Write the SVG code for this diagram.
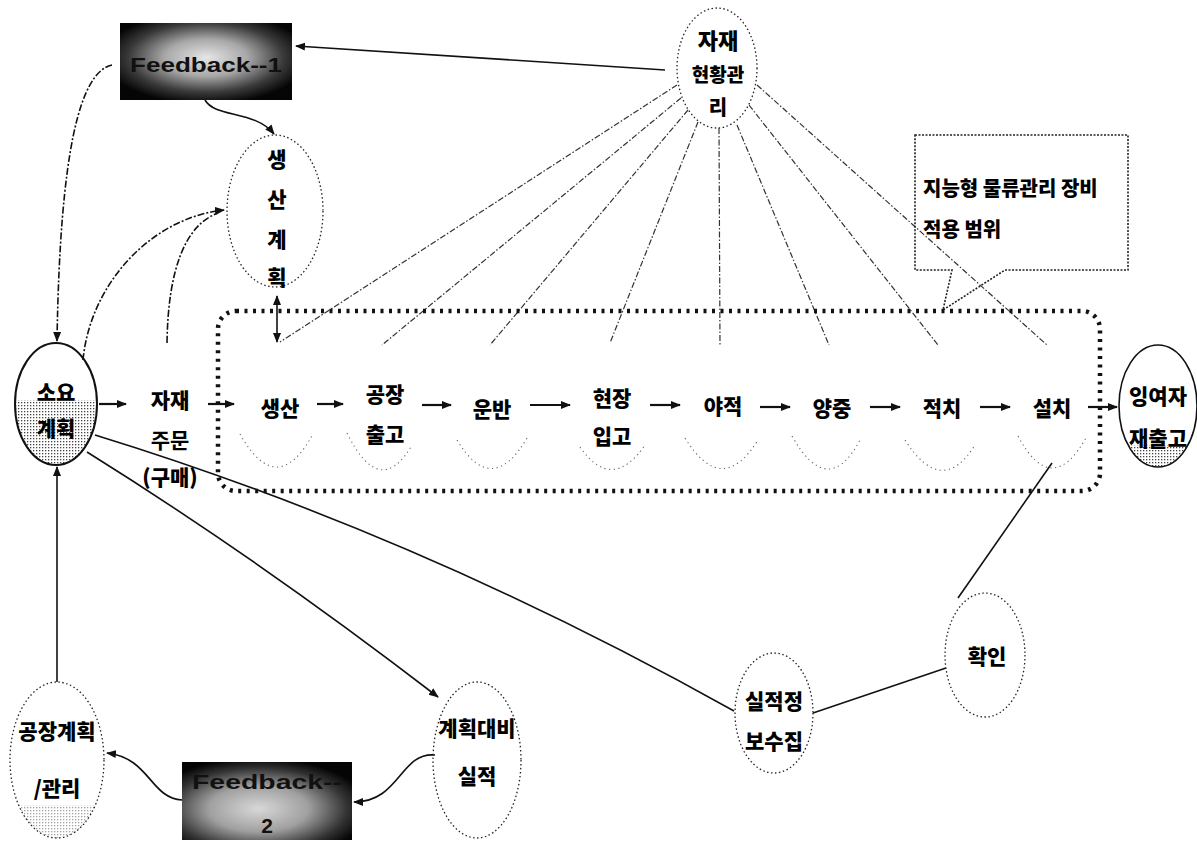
<svg xmlns="http://www.w3.org/2000/svg" width="1197" height="845" viewBox="0 0 1197 845">
<style>
.t{font-family:"Noto Sans CJK KR","Noto Sans",sans-serif;font-weight:900;font-size:21px;text-anchor:middle;dominant-baseline:central;fill:#000}
.fb{font-family:"Liberation Sans",Arial,sans-serif;font-weight:bold;font-size:21px;text-anchor:middle;dominant-baseline:central;fill:#111}
.dot{fill:none;stroke:#222;stroke-width:1.3;stroke-dasharray:1.5 2.5}
.solid{fill:none;stroke:#111;stroke-width:2}
.conn{fill:none;stroke:#111;stroke-width:1.6}
.dconn{fill:none;stroke:#111;stroke-width:1.6;stroke-dasharray:7 2 2 2}
.ray{fill:none;stroke:#333;stroke-width:1.2;stroke-dasharray:6 2 1.5 2}
.faint{fill:none;stroke:#666;stroke-width:1.1;stroke-dasharray:1.2 3.5}
.step{fill:none;stroke:#111;stroke-width:2.2}
</style>
<defs>
<marker id="ah" viewBox="0 0 10 10" refX="9" refY="5" markerWidth="10" markerHeight="10" markerUnits="userSpaceOnUse" orient="auto-start-reverse">
<path d="M0,1 L10,5 L0,9 z" fill="#111"/>
</marker>
<pattern id="stip" width="3" height="3" patternUnits="userSpaceOnUse">
<rect width="1.3" height="1.3" fill="#444"/>
</pattern>
<radialGradient id="fbg" cx="0.5" cy="0.45" r="0.6">
<stop offset="0" stop-color="#e6e6e6"/>
<stop offset="0.4" stop-color="#a8a8a8"/>
<stop offset="0.75" stop-color="#3a3a3a"/>
<stop offset="1" stop-color="#050505"/>
</radialGradient>
<radialGradient id="fbg2" cx="0.45" cy="0.6" r="0.65">
<stop offset="0" stop-color="#d8d8d8"/>
<stop offset="0.45" stop-color="#a0a0a0"/>
<stop offset="0.8" stop-color="#333"/>
<stop offset="1" stop-color="#050505"/>
</radialGradient>
<clipPath id="c1"><ellipse cx="56" cy="404" rx="41" ry="61"/></clipPath>
<clipPath id="c2"><ellipse cx="1158" cy="406" rx="39" ry="61"/></clipPath>
<clipPath id="c3"><ellipse cx="57" cy="760" rx="47" ry="78"/></clipPath>
</defs>

<g id="connectors">
<path class="ray" d="M677,85 L280,342"/>
<path class="ray" d="M681,98 L382,345"/>
<path class="ray" d="M688,110 L490,345"/>
<path class="ray" d="M698,122 L610,343"/>
<path class="ray" d="M719,128 L720,345"/>
<path class="ray" d="M737,125 L829,345"/>
<path class="ray" d="M749,105 L938,345"/>
<path class="ray" d="M757,85 L1047,345"/>
<path class="conn" d="M665,70 Q480,58 296,46" marker-end="url(#ah)"/>
<path class="conn" d="M205,100 C215,118 255,110 274,134" marker-end="url(#ah)"/>
<path class="dconn" d="M112,65 C80,72 60,150 57,341" marker-end="url(#ah)"/>
<path class="dconn" d="M83,360 C90,285 150,218 224,210" marker-end="url(#ah)"/>
<path class="dconn" d="M167,343 C168,270 185,225 218,213"/>
<path class="conn" d="M277,296 L277,342" marker-start="url(#ah)" marker-end="url(#ah)"/>
<path class="conn" d="M99,404 L126,404" marker-end="url(#ah)" style="stroke-width:2.2"/>
<path class="step" d="M208,404 L234,404" marker-end="url(#ah)"/>
<path class="step" d="M317,404 L343,404" marker-end="url(#ah)"/>
<path class="step" d="M422,405 L451,405" marker-end="url(#ah)"/>
<path class="step" d="M530,405 L570,405" marker-end="url(#ah)"/>
<path class="step" d="M650,405 L680,405" marker-end="url(#ah)"/>
<path class="step" d="M760,407 L790,407" marker-end="url(#ah)"/>
<path class="step" d="M870,407 L900,407" marker-end="url(#ah)"/>
<path class="step" d="M980,407 L1010,407" marker-end="url(#ah)"/>
<path class="step" d="M1088,407 L1117,407" marker-end="url(#ah)"/>
<path class="conn" d="M87,452 Q260,560 438,697" marker-end="url(#ah)"/>
<path class="conn" d="M95,435 Q420,535 734,711"/>
<path class="conn" d="M813,713 L946,668"/>
<path class="conn" d="M958,598 L1052,463"/>
<path class="conn" d="M57,682 L57,467" marker-end="url(#ah)"/>
<path class="conn" d="M435,755 C400,752 400,802 354,802" marker-end="url(#ah)"/>
<path class="conn" d="M182,800 C150,798 150,758 107,753" marker-end="url(#ah)"/>
</g>

<g id="scope">
<rect x="218" y="311" width="882" height="180" rx="18" fill="none" stroke="#111" stroke-width="4.5" stroke-dasharray="3 5.5"/>
</g>

<g id="callout">
<path d="M915,135 H1128 V270 H1005 L943,310 L952,270 H915 Z" fill="none" stroke="#222" stroke-width="1.6" stroke-dasharray="2 1.5"/>
<text class="t" x="923" y="187" style="text-anchor:start;font-size:20px">지능형 물류관리 장비</text>
<text class="t" x="923" y="228" style="text-anchor:start;font-size:20px">적용 범위</text>
</g>

<g id="feedback1">
<rect x="120" y="23" width="172" height="77" fill="url(#fbg)"/>
<text class="fb" x="206" y="64" textLength="152" lengthAdjust="spacingAndGlyphs">Feedback--1</text>
</g>

<g id="jajae-status">
<ellipse class="dot" cx="717" cy="68" rx="40" ry="60"/>
<text class="t" x="718" y="39" style="font-size:22px">자재</text>
<text class="t" x="718" y="73" style="font-size:19px">현황관</text>
<text class="t" x="718" y="106" style="font-size:20px">리</text>
</g>

<g id="production-plan">
<ellipse class="dot" cx="275" cy="211" rx="48" ry="76"/>
<text class="t" x="277" y="158">생</text>
<text class="t" x="277" y="198">산</text>
<text class="t" x="277" y="238">계</text>
<text class="t" x="277" y="276">획</text>
</g>

<g id="soyo-plan">
<rect x="10" y="400" width="95" height="70" fill="url(#stip)" clip-path="url(#c1)"/>
<ellipse class="solid" cx="56" cy="404" rx="41" ry="61"/>
<text class="t" x="56" y="391">소요</text>
<text class="t" x="56" y="427">계획</text>
</g>

<g id="order">
<text class="t" x="170" y="399">자재</text>
<text class="t" x="170" y="439" style="font-weight:bold">주문</text>
<text class="t" x="170" y="476">(구매)</text>
</g>

<g id="steps">
<path class="faint" d="M240,434 Q277,500 313,434"/>
<path class="faint" d="M347,433 Q380,500 412,445"/>
<path class="faint" d="M457,440 Q492,498 527,438"/>
<path class="faint" d="M580,447 Q612,493 645,445"/>
<path class="faint" d="M685,438 Q722,498 758,440"/>
<path class="faint" d="M792,436 Q828,500 860,440"/>
<path class="faint" d="M905,440 Q942,498 975,445"/>
<path class="faint" d="M1018,436 Q1052,500 1087,436"/>
</g>
<g id="s-production"><text class="t" x="280" y="407">생산</text></g>
<g id="s-factory-out"><text class="t" x="385" y="393">공장</text><text class="t" x="385" y="433">출고</text></g>
<g id="s-transport"><text class="t" x="492" y="408">운반</text></g>
<g id="s-site-in"><text class="t" x="612" y="397">현장</text><text class="t" x="612" y="435">입고</text></g>
<g id="s-yard"><text class="t" x="723" y="405">야적</text></g>
<g id="s-lift"><text class="t" x="832" y="407">양중</text></g>
<g id="s-stack"><text class="t" x="942" y="407">적치</text></g>
<g id="s-install"><text class="t" x="1052" y="407">설치</text></g>

<g id="surplus">
<rect x="1115" y="445" width="85" height="30" fill="url(#stip)" clip-path="url(#c2)"/>
<ellipse class="solid" cx="1158" cy="406" rx="39" ry="61" style="stroke-width:1.6"/>
<text class="t" x="1158" y="395">잉여자</text>
<text class="t" x="1158" y="437">재출고</text>
</g>

<g id="factory-plan">
<rect x="5" y="805" width="105" height="40" fill="url(#stip)" clip-path="url(#c3)" opacity="0.5"/>
<ellipse class="dot" cx="57" cy="760" rx="47" ry="78"/>
<text class="t" x="57" y="730">공장계획</text>
<text class="t" x="57" y="787">/관리</text>
</g>

<g id="feedback2">
<rect x="182" y="762" width="170" height="78" fill="url(#fbg2)"/>
<text class="fb" x="267" y="781" textLength="150" lengthAdjust="spacingAndGlyphs">Feedback--</text>
<text class="fb" x="267" y="825">2</text>
</g>

<g id="plan-vs-actual">
<ellipse class="dot" cx="477" cy="760" rx="44" ry="78"/>
<text class="t" x="477" y="727">계획대비</text>
<text class="t" x="477" y="775">실적</text>
</g>

<g id="collect">
<ellipse class="dot" cx="774" cy="713" rx="39" ry="60"/>
<text class="t" x="774" y="700">실적정</text>
<text class="t" x="774" y="740">보수집</text>
</g>

<g id="confirm">
<ellipse class="dot" cx="985" cy="655" rx="40" ry="62"/>
<text class="t" x="987" y="655">확인</text>
</g>
</svg>
